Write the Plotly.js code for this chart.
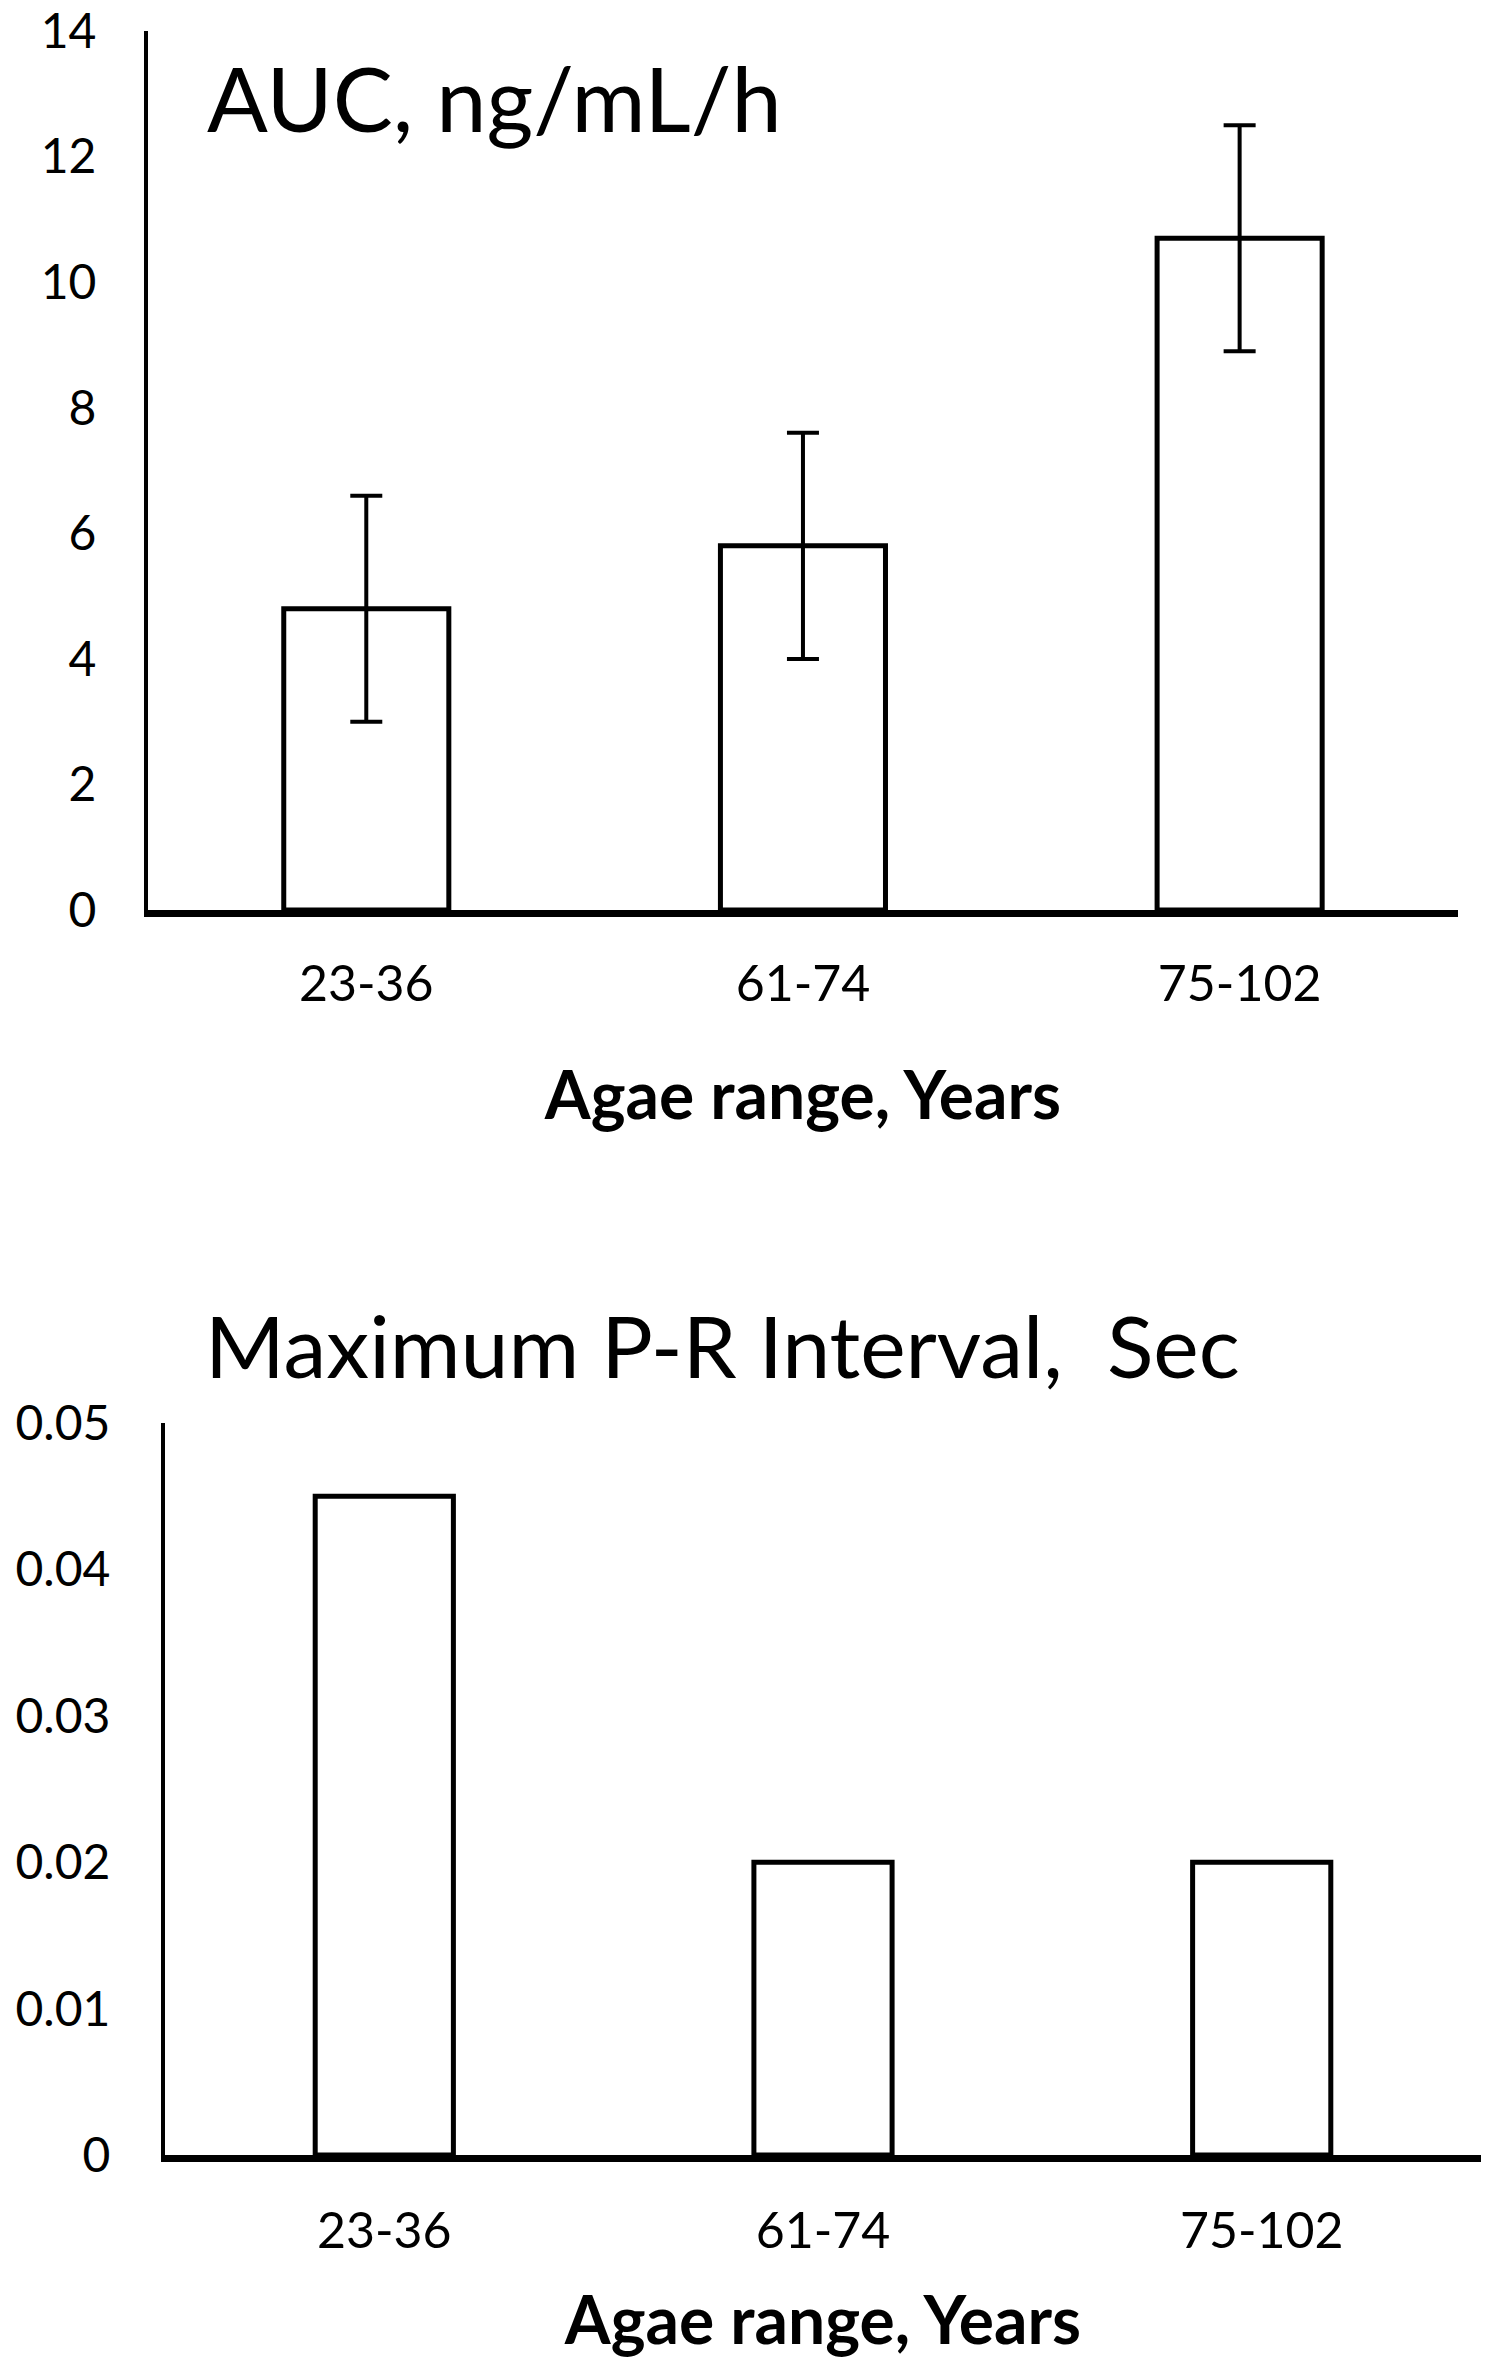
<!DOCTYPE html>
<html>
<head>
<meta charset="utf-8">
<script src="https://cdn.plot.ly/plotly-3.0.1.min.js"></script>
<style>html,body{margin:0;padding:0;background:#fff;}#chart{width:1490px;height:2362px;}</style>
</head>
<body>
<div id="chart"></div>
<script>
// ---- data ----
const categories = ["23-36", "61-74", "75-102"];
const aucValues = [4.8, 5.8, 10.7];
const aucErrors = [1.8, 1.8, 1.8];
const prValues = [0.045, 0.02, 0.02];
const aucTickVals = [0, 2, 4, 6, 8, 10, 12, 14];
const prTickVals = [0, 0.01, 0.02, 0.03, 0.04, 0.05];
const prTickText = ["0", "0.01", "0.02", "0.03", "0.04", "0.05"];
const aucTitle = "AUC, ng/mL/h";
const prTitle = "Maximum P-R Interval,\u00a0 Sec";
const xTitle = "Agae range, Years";

const FONT = "Lato, 'Open Sans', sans-serif";

const traces = [
  {
    type: "bar", x: categories, y: aucValues, xaxis: "x", yaxis: "y",
    width: 0.378,
    marker: {color: "#ffffff", line: {color: "#000000", width: 5}},
    error_y: {type: "data", array: aucErrors, visible: true, color: "#000000", thickness: 4, width: 16},
    hoverinfo: "x+y"
  },
  {
    type: "bar", x: categories, y: prValues, xaxis: "x2", yaxis: "y2",
    width: 0.315,
    marker: {color: "#ffffff", line: {color: "#000000", width: 5}},
    hoverinfo: "x+y"
  }
];

const tickFont = {family: FONT, size: 50, color: "#000"};
const yTickFont = {family: FONT, size: 48, color: "#000"};
const axTitleFont = {family: FONT, size: 66, color: "#000", weight: "bold"};

const layout = {
  width: 1490, height: 2362,
  margin: {l: 0, r: 0, t: 0, b: 0},
  paper_bgcolor: "#fff", plot_bgcolor: "#fff",
  showlegend: false,
  xaxis: {
    domain: [0.0993, 0.9785], anchor: "y",
    type: "category", range: [-0.5, 2.5],
    showline: true, linecolor: "#000", linewidth: 7,
    showgrid: false, zeroline: false, ticks: "",
    ticklabelstandoff: 24, tickfont: tickFont,
    title: {text: xTitle, font: axTitleFont, standoff: 64}
  },
  yaxis: {
    domain: [0.6147, 0.9869], anchor: "x",
    range: [0, 14], tickvals: aucTickVals,
    showline: true, linecolor: "#000", linewidth: 4,
    showgrid: false, zeroline: false, ticks: "",
    ticklabeloverflow: "allow",
    ticklabelstandoff: 38, tickfont: yTickFont
  },
  xaxis2: {
    domain: [0.1107, 0.9940], anchor: "y2",
    type: "category", range: [-0.5, 2.5],
    showline: true, linecolor: "#000", linewidth: 7,
    showgrid: false, zeroline: false, ticks: "",
    ticklabelstandoff: 26, tickfont: tickFont,
    title: {text: xTitle, font: axTitleFont, standoff: 42}
  },
  yaxis2: {
    domain: [0.0876, 0.3975], anchor: "x2",
    range: [0, 0.05], tickvals: prTickVals, ticktext: prTickText,
    showline: true, linecolor: "#000", linewidth: 4,
    showgrid: false, zeroline: false, ticks: "",
    ticklabeloverflow: "allow",
    ticklabelstandoff: 41, tickfont: yTickFont
  },
  annotations: [
    {text: aucTitle, xref: "paper", yref: "paper", x: 0.1376, y: 0.9589,
     xanchor: "left", yanchor: "middle", showarrow: false,
     font: {family: FONT, size: 90, color: "#000"}},
    {text: prTitle, xref: "paper", yref: "paper", x: 0.1362, y: 0.4306,
     xanchor: "left", yanchor: "middle", showarrow: false,
     font: {family: FONT, size: 86, color: "#000"}}
  ]
};

Plotly.newPlot("chart", traces, layout, {displayModeBar: false, staticPlot: true});
</script>
</body>
</html>
